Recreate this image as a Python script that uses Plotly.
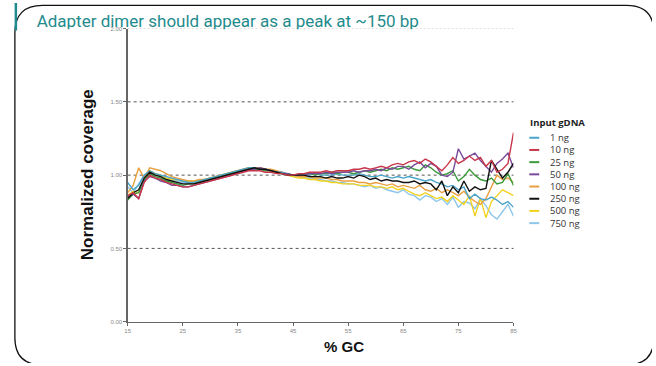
import plotly.graph_objects as go

W, H = 656, 366

gc = list(range(15, 86))

series_names = ["1 ng", "10 ng", "25 ng", "50 ng", "100 ng", "250 ng", "500 ng", "750 ng"]
series_colors = ["#4aa3c8", "#c8364a", "#3a9a3a", "#7a4a9c", "#e8a040", "#111111", "#f2d21e", "#8cc6ea"]

cov_1ng = [.95, .90, .93, 1.00, 1.03, 1.01, 1.00, .99, .98, .97,
           .96, .95, .95, .96, .97, .98, .99, 1.00, 1.01, 1.02,
           1.03, 1.04, 1.05, 1.05, 1.04, 1.04, 1.03, 1.02, 1.02, 1.01,
           1.00, 1.00, 1.00, 1.00, 1.01, 1.00, 1.00, 1.00, 1.01, 1.00,
           1.00, 1.00, 1.01, 1.00, 0.99, 0.99, 1.00, 0.99, 0.98, 0.99,
           0.98, 0.99, 0.98, 0.97, 0.96, 0.97, 0.95, 0.94, 0.92, 0.93,
           0.90, 0.92, 0.84, 0.87, 0.84, 0.83, 0.85, 0.83, 0.80, 0.82, 0.78]
cov_10ng = [.86, .88, .84, .95, 1.00, .98, .97, .95, .94, .93,
            .92, .92, .93, .94, .95, .96, .97, .98, .99, 1.00,
            1.01, 1.02, 1.03, 1.03, 1.03, 1.02, 1.02, 1.01, 1.01, 1.00,
            1.00, 1.01, 1.01, 1.02, 1.02, 1.02, 1.03, 1.02, 1.03, 1.03,
            1.03, 1.04, 1.04, 1.05, 1.04, 1.05, 1.06, 1.05, 1.07, 1.08,
            1.07, 1.09, 1.10, 1.08, 1.11, 1.09, 1.06, 1.03, 1.07, 1.12,
            1.08, 1.10, 1.13, 1.10, 1.12, 1.06, 1.10, 1.02, 1.04, 1.08, 1.29]
cov_25ng = [.83, .87, .88, .97, 1.01, .99, .98, .96, .95, .94,
            .93, .94, .94, .95, .96, .97, .98, .99, 1.00, 1.01,
            1.02, 1.03, 1.04, 1.04, 1.04, 1.03, 1.03, 1.02, 1.01, 1.01,
            1.00, 1.00, 1.01, 1.01, 1.00, 1.01, 1.01, 1.02, 1.01, 1.02,
            1.02, 1.01, 1.02, 1.03, 1.02, 1.03, 1.04, 1.03, 1.05, 1.04,
            1.05, 1.06, 1.04, 1.03, 1.07, 1.05, 1.02, 1.00, 1.01, 1.03,
            0.96, 0.99, 1.04, 1.00, 0.97, 0.96, 0.98, 0.94, 0.95, 1.01, 0.93]
cov_50ng = [.85, .87, .84, .96, .99, .98, .96, .95, .93, .93,
            .92, .92, .93, .94, .95, .96, .97, .98, .99, 1.00,
            1.02, 1.03, 1.04, 1.04, 1.05, 1.04, 1.03, 1.02, 1.01, 1.01,
            1.00, 1.00, 1.00, 1.01, 1.01, 1.01, 1.02, 1.01, 1.02, 1.02,
            1.02, 1.03, 1.02, 1.03, 1.03, 1.04, 1.03, 1.05, 1.04, 1.06,
            1.06, 1.04, 1.07, 1.09, 1.05, 1.08, 1.06, 1.00, 0.99, 1.02,
            1.18, 1.11, 1.13, 1.15, 1.10, 1.06, 1.02, 1.08, 1.11, 1.15, 1.05]
cov_100ng = [.88, .93, 1.05, .98, 1.05, 1.04, 1.03, 1.01, .99, .98,
             .97, .96, .96, .97, .97, .98, .99, 1.00, 1.01, 1.02,
             1.03, 1.04, 1.05, 1.05, 1.05, 1.04, 1.04, 1.03, 1.02, 1.01,
             1.00, 0.99, 0.99, 0.99, 0.98, 0.98, 0.98, 0.97, 0.97, 0.96,
             0.96, 0.96, 0.95, 0.95, 0.94, 0.95, 0.94, 0.93, 0.94, 0.92,
             0.93, 0.92, 0.91, 0.93, 0.90, 0.89, 0.91, 0.88, 0.90, 0.88,
             0.86, 0.89, 0.85, 0.82, 0.80, 0.84, 0.92, 1.00, 0.97, 0.98, 0.95]
cov_250ng = [.84, .88, .90, .98, 1.02, 1.00, .99, .97, .96, .95,
             .94, .94, .94, .95, .96, .97, .98, .99, 1.00, 1.01,
             1.02, 1.03, 1.04, 1.05, 1.04, 1.04, 1.03, 1.02, 1.01, 1.00,
             1.00, 1.00, 1.00, 0.99, 0.99, 0.99, 0.98, 0.99, 0.98, 0.98,
             0.99, 0.98, 1.00, 0.99, 0.97, 0.98, 0.96, 0.97, 0.96, 0.96,
             0.95, 0.95, 0.96, 0.94, 0.95, 0.94, 0.90, 0.96, 0.86, 0.92,
             0.88, 0.96, 0.89, 0.92, 0.90, 0.91, 1.10, 1.04, 0.98, 1.02, 1.08]
cov_500ng = [.86, .89, .88, .98, 1.03, 1.01, 1.00, .98, .97, .97,
             .96, .96, .96, .96, .97, .98, .99, 1.00, 1.01, 1.02,
             1.03, 1.04, 1.05, 1.05, 1.05, 1.04, 1.03, 1.02, 1.01, 1.00,
             0.99, 0.98, 0.98, 0.97, 0.97, 0.96, 0.96, 0.95, 0.95, 0.94,
             0.94, 0.94, 0.93, 0.93, 0.93, 0.92, 0.92, 0.91, 0.92, 0.90,
             0.91, 0.89, 0.87, 0.86, 0.88, 0.86, 0.84, 0.85, 0.82, 0.86,
             0.83, 0.80, 0.86, 0.72, 0.84, 0.71, 0.82, 0.86, 0.90, 0.88, 0.86]
cov_750ng = [.92, .88, .94, 1.00, 1.02, 1.01, 1.00, .98, .97, .96,
             .95, .95, .95, .96, .97, .98, .99, 1.00, 1.01, 1.02,
             1.03, 1.04, 1.04, 1.05, 1.04, 1.04, 1.03, 1.02, 1.01, 1.00,
             0.99, 0.99, 0.98, 0.98, 0.97, 0.97, 0.96, 0.96, 0.95, 0.95,
             0.94, 0.94, 0.93, 0.92, 0.93, 0.91, 0.92, 0.90, 0.89, 0.88,
             0.90, 0.87, 0.86, 0.83, 0.86, 0.85, 0.82, 0.84, 0.80, 0.85,
             0.78, 0.82, 0.81, 0.77, 0.84, 0.79, 0.73, 0.70, 0.75, 0.80, 0.72]

series_values = [cov_1ng, cov_10ng, cov_25ng, cov_50ng, cov_100ng, cov_250ng, cov_500ng, cov_750ng]

x_ticks = [15, 25, 35, 45, 55, 65, 75, 85]
y_ticks = [0.0, 0.5, 1.0, 1.5, 2.0]

heading = "Adapter dimer should appear as a peak at ~150 bp"
legend_title = "Input gDNA"
x_title = "% GC"
y_title = "Normalized coverage"

TEAL = "#1f8b8d"

fig = go.Figure()

# draw order: lighter ones first, strong ones on top
order = [7, 6, 4, 0, 2, 3, 5, 1]
for i in order:
    fig.add_trace(go.Scatter(x=gc, y=series_values[i], mode="lines", name=series_names[i],
                             line=dict(color=series_colors[i], width=1.4),
                             xaxis="x", yaxis="y", showlegend=False, hoverinfo="skip"))

# slide heading (its lower edge is hidden behind the chart picture)
fig.add_trace(go.Scatter(x=[34], y=[20.5], mode="text", text=[heading], textposition="middle right",
                         textfont=dict(family="Roboto", size=17, color=TEAL),
                         xaxis="x3", yaxis="y3", showlegend=False, hoverinfo="skip", cliponaxis=False))

x_dom = [126 / W, 516 / W]
y_dom = [(H - 324) / H, (H - 26) / H]

tickfont = dict(family="Liberation Sans", size=6, color="#888888")
fig.update_layout(
    width=W, height=H,
    margin=dict(l=0, r=0, t=0, b=0),
    paper_bgcolor="white", plot_bgcolor="rgba(0,0,0,0)",
    xaxis=dict(domain=x_dom, range=[15, 85], tickvals=x_ticks, ticktext=[str(v) for v in x_ticks],
               showgrid=False, zeroline=False, showline=True, linecolor="#666666", linewidth=1.3,
               ticks="outside", ticklen=3, tickcolor="#666666", tickfont=tickfont, anchor="y",
               fixedrange=True),
    yaxis=dict(domain=y_dom, range=[0, 2], tickvals=y_ticks, ticktext=["%.2f" % v for v in y_ticks],
               showgrid=False, zeroline=False, showline=True, linecolor="#666666", linewidth=1.3,
               ticks="outside", ticklen=3, tickcolor="#666666", tickfont=tickfont, anchor="x",
               fixedrange=True),
    xaxis3=dict(domain=[0, 1], range=[0, W], visible=False, anchor="y3", fixedrange=True),
    yaxis3=dict(domain=[0, 1], range=[H, 0], visible=False, anchor="x3", fixedrange=True),
)

shapes = []
# gridlines
for v in y_ticks[1:]:
    light = v == y_ticks[-1]
    shapes.append(dict(type="line", xref="x", yref="y", x0=15, x1=85.3, y0=v, y1=v,
                       line=dict(color="#c0c0c0" if light else "#555555", width=1,
                                 dash="2px,2px" if light else "3px,3px"),
                       layer="below"))
# white chart-picture edge covering the heading's descenders
for (a, b) in [(28, 104), (128, 520)]:
    shapes.append(dict(type="rect", xref="x3", yref="y3", x0=a, x1=b, y0=26.6, y1=36,
                       fillcolor="white", line=dict(width=0), layer="above"))
# slide frame (rounded rectangle) and teal bar
fx0, fy0, fx1, fy1, R = 12, 2.5, 658, 368, 28
path = (f"M {fx0+R},{fy0} L {fx1-R},{fy0} Q {fx1},{fy0} {fx1},{fy0+R} L {fx1},{fy1-R} "
        f"Q {fx1},{fy1} {fx1-R},{fy1} L {fx0+R},{fy1} Q {fx0},{fy1} {fx0},{fy1-R} "
        f"L {fx0},{fy0+R} Q {fx0},{fy0} {fx0+R},{fy0} Z")
shapes.append(dict(type="path", xref="x3", yref="y3", path=path,
                   line=dict(color="#111111", width=1.3), layer="above"))
shapes.append(dict(type="line", xref="x3", yref="y3", x0=13, x1=13, y0=0, y1=28,
                   line=dict(color=TEAL, width=2.5), layer="above"))

annotations = []
# axis titles
annotations.append(dict(xref="x3", yref="y3", x=85, y=175, text="<b>" + y_title + "</b>", textangle=-90,
                        showarrow=False, font=dict(family="Liberation Sans", size=17, color="#111111"),
                        xanchor="center", yanchor="middle"))
annotations.append(dict(xref="x3", yref="y3", x=345, y=349, text="<b>" + x_title + "</b>",
                        showarrow=False, font=dict(family="Liberation Sans", size=15, color="#111111"),
                        xanchor="center", yanchor="middle"))
# manual legend
annotations.append(dict(xref="x3", yref="y3", x=531, y=121, text="<b>" + legend_title + "</b>",
                        showarrow=False, font=dict(family="Open Sans", size=9.5, color="#222222"),
                        xanchor="left", yanchor="middle"))
for k, (nm, col) in enumerate(zip(series_names, series_colors)):
    yy = 137 + k * 12.4
    shapes.append(dict(type="line", xref="x3", yref="y3", x0=532, x1=542, y0=yy, y1=yy,
                       line=dict(color=col, width=2), layer="above"))
    annotations.append(dict(xref="x3", yref="y3", x=551, y=yy, text=nm, showarrow=False,
                            font=dict(family="Open Sans", size=9.5, color="#333333"),
                            xanchor="left", yanchor="middle"))

fig.update_layout(shapes=shapes, annotations=annotations)

fig.write_html("out.html", config={"displayModeBar": False, "staticPlot": True},
               post_script="document.body.style.margin='0px';")
